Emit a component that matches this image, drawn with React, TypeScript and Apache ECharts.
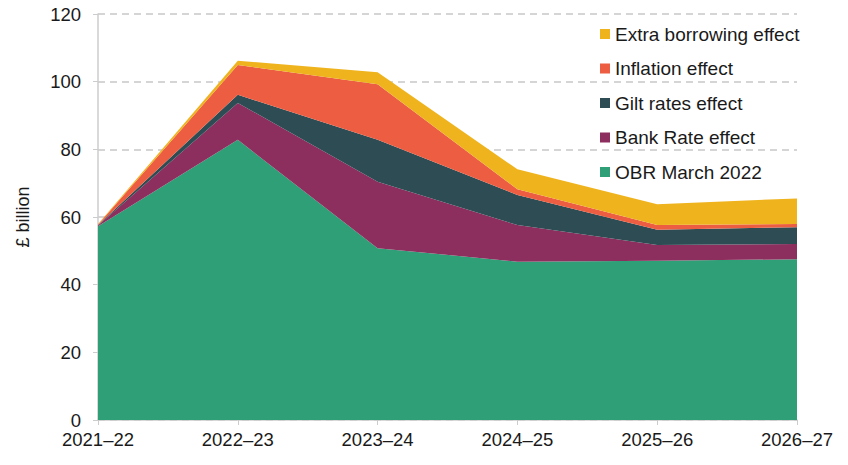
import React, { useEffect, useRef } from "react";
import * as echarts from "echarts";

const categories = ["2021–22", "2022–23", "2023–24", "2024–25", "2025–26", "2026–27"];
const obrMarch2022 = [57.3, 82.8, 50.8, 46.8, 47.1, 47.5];
const bankRateEffect = [0.2, 10.9, 19.6, 10.8, 4.6, 4.5];
const giltRatesEffect = [0.1, 2.4, 12.4, 8.9, 4.5, 5.0];
const inflationEffect = [0.2, 8.8, 16.4, 1.7, 1.4, 0.9];
const extraBorrowingEffect = [0.1, 1.3, 3.6, 5.9, 6.2, 7.6];
const yTicks = [0, 20, 40, 60, 80, 100, 120];

const FONT = "'Liberation Sans', Arial, sans-serif";

export default function App() {
  const ref = useRef<HTMLDivElement>(null);
  useEffect(() => {
    if (!ref.current) return;
    const chart = echarts.init(ref.current, undefined, { renderer: "svg" });
    const mk = (name: string, data: number[], color: string) => ({
      name,
      type: "line",
      stack: "total",
      data,
      symbol: "none",
      showSymbol: false,
      lineStyle: { width: 0 },
      itemStyle: { color },
      areaStyle: { color, opacity: 1 },
    });
    chart.setOption({
      animation: false,
      textStyle: { fontFamily: FONT },
      grid: { left: 98, right: 51, top: 14, bottom: 45, containLabel: false },
      legend: {
        orient: "vertical",
        left: 595,
        top: 19,
        itemWidth: 10,
        itemHeight: 10,
        itemGap: 14.5,
        icon: "rect",
        textStyle: { fontSize: 19, color: "#1a1a1a", fontFamily: FONT, lineHeight: 20 },
        data: ["Extra borrowing effect", "Inflation effect", "Gilt rates effect", "Bank Rate effect", "OBR March 2022"],
      },
      xAxis: {
        type: "category",
        data: categories,
        boundaryGap: false,
        axisLine: { lineStyle: { color: "#cccccc", width: 1.5 } },
        axisTick: { show: true, alignWithLabel: true, length: 5, lineStyle: { color: "#cccccc" } },
        axisLabel: { fontSize: 18.5, color: "#1a1a1a", margin: 10, fontFamily: FONT },
        splitLine: { show: false },
      },
      yAxis: {
        type: "value",
        min: 0,
        max: 120,
        interval: 20,
        name: "£ billion",
        nameLocation: "middle",
        nameGap: 66,
        nameRotate: 90,
        nameTextStyle: { fontSize: 18, color: "#1a1a1a", fontFamily: FONT },
        axisLine: { show: true, lineStyle: { color: "#cccccc", width: 1.5 } },
        axisTick: { show: true, length: 5, lineStyle: { color: "#cccccc" } },
        axisLabel: {
          fontSize: 18.5,
          color: "#1a1a1a",
          margin: 17,
          fontFamily: FONT,
          formatter: (v: number) => (yTicks.includes(v) ? String(v) : ""),
        },
        splitLine: { show: true, lineStyle: { color: "#c8c8c8", type: [7, 5], width: 1.5 } },
      },
      series: [
        mk("OBR March 2022", obrMarch2022, "#2f9f77"),
        mk("Bank Rate effect", bankRateEffect, "#8c2f5e"),
        mk("Gilt rates effect", giltRatesEffect, "#2d4c53"),
        mk("Inflation effect", inflationEffect, "#ec5d42"),
        mk("Extra borrowing effect", extraBorrowingEffect, "#efb31e"),
      ],
    });
    return () => chart.dispose();
  }, []);
  return <div ref={ref} style={{ width: 848, height: 465, position: "absolute", left: 0, top: 0 }} />;
}
